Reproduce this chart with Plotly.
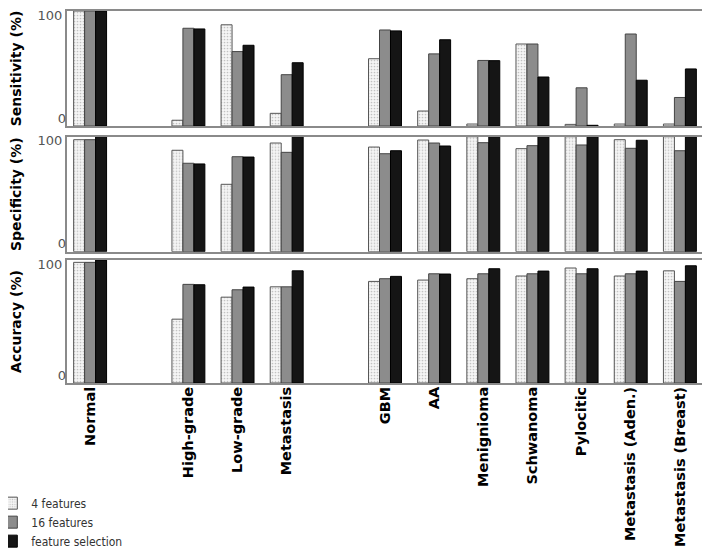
import plotly.graph_objects as go

# slot order along the x axis (None = empty spacer slot)
slots = ["Normal", None, "High-grade", "Low-grade", "Metastasis", None,
         "GBM", "AA", "Menignioma", "Schwanoma", "Pylocitic",
         "Metastasis (Aden.)", "Metastasis (Breast)"]
categories = [s for s in slots if s]

series_names = ["4 features", "16 features", "feature selection"]

sens_4 = [100, 5, 88, 11, 58.5, 13, 1.7, 71.3, 1.4, 1.7, 1.7]
sens_16 = [100, 85, 64.7, 44.6, 83.5, 62.7, 57, 71.3, 33.2, 80, 24.8]
sens_fs = [100, 84.4, 70.2, 55, 82.7, 75, 56.8, 42.6, 0.6, 39.8, 49.6]

spec_4 = [97.4, 88.2, 58.6, 94.5, 91, 97.1, 100, 89.6, 100, 97.4, 100]
spec_16 = [97.4, 76.9, 82.6, 86.4, 85.2, 94.5, 94.8, 92.2, 92.8, 89.9, 87.8]
spec_fs = [100, 76.3, 82.3, 100, 87.8, 91.9, 100, 100, 100, 96.9, 100]

acc_4 = [98.1, 51.9, 69.8, 78.2, 82.6, 83.7, 84.8, 87, 93.5, 87, 91.2]
acc_16 = [98.1, 80.2, 75.8, 78.2, 84.8, 88.8, 88.8, 88.8, 88.8, 88.8, 82.6]
acc_fs = [100, 79.9, 78, 91.2, 86.7, 88.6, 92.9, 91, 92.9, 91, 95.3]

panels = [
    ("Sensitivity (%)", [sens_4, sens_16, sens_fs]),
    ("Specificity (%)", [spec_4, spec_16, spec_fs]),
    ("Accuracy (%)", [acc_4, acc_16, acc_fs]),
]

xpos = [slots.index(c) for c in categories]

styles = [
    dict(color="#f5f5f5", line=dict(color="#555555", width=1),
         pattern=dict(shape=".", fgcolor="#909090", bgcolor="#f5f5f5",
                      size=3, solidity=0.25)),
    dict(color="#8c8c8c", line=dict(color="#444444", width=1)),
    dict(color="#151515", line=dict(color="#000000", width=1)),
]

fig = go.Figure()
domains = [[0.6909, 1.0], [0.3530, 0.6621], [0.0, 0.3306]]
tickfont = dict(family="DejaVu Sans", size=13, color="#555555")

for p, (title, series) in enumerate(panels):
    ax = "" if p == 0 else str(p + 1)
    ov = str(p + 4)
    for s, vals in enumerate(series):
        fig.add_trace(go.Bar(
            x=xpos, y=vals, name=series_names[s],
            marker=styles[s], showlegend=(p == 0),
            legendgroup=series_names[s],
            xaxis="x" + ax, yaxis="y" + ax,
        ))
    # empty helper trace so the overlay axis (carrying the "0" label) is drawn
    fig.add_trace(go.Scatter(x=[], y=[], xaxis="x" + ax, yaxis="y" + ov,
                             showlegend=False, hoverinfo="skip"))
    last = p == 2
    fig.layout["xaxis" + ax] = dict(
        domain=[0, 1], anchor="y" + ax, range=[-0.47, 12.47],
        showgrid=False, zeroline=False, showline=True, mirror=True,
        linecolor="#8a8a8a", linewidth=2, ticks="", automargin=False,
        tickmode="array", tickvals=xpos if last else [],
        ticktext=["<b>" + c + "</b>" for c in categories] if last else [],
        tickangle=-90, tickfont=dict(family="DejaVu Sans", size=14.5,
                                     color="#000000"),
        ticklabelstandoff=-4,
        showticklabels=last,
    )
    fig.layout["yaxis" + ax] = dict(
        domain=domains[p], anchor="x" + ax, range=[0, 100],
        showgrid=False, zeroline=False, showline=True, mirror=True,
        linecolor="#8a8a8a", linewidth=2, ticks="", automargin=False,
        tickmode="array", tickvals=[100], ticktext=["100"],
        ticklabelshift=4, ticklabeloverflow="allow", tickfont=tickfont,
        title=dict(text="<b>" + title + "</b>", standoff=20,
                   font=dict(family="DejaVu Sans", size=14, color="#000000")),
    )
    fig.layout["yaxis" + ov] = dict(
        overlaying="y" + ax, anchor="x" + ax, side="left", range=[0, 100],
        showgrid=False, zeroline=False, showline=False, ticks="",
        automargin=False, tickmode="array", tickvals=[0], ticktext=["0"],
        ticklabelshift=-8, ticklabeloverflow="allow", tickfont=tickfont,
    )

fig.update_layout(
    width=702, height=552,
    margin=dict(l=59, r=7, t=3, b=177, autoexpand=False),
    barmode="group", bargap=0.33, bargroupgap=0,
    plot_bgcolor="white", paper_bgcolor="white",
    showlegend=True,
    legend=dict(x=-0.119, y=-0.284, xanchor="left", yanchor="top",
                font=dict(family="DejaVu Sans Condensed, DejaVu Sans, sans-serif",
                          size=12, color="#333333"),
                tracegroupgap=0, bgcolor="rgba(0,0,0,0)"),
)

fig.write_html("out.html")
